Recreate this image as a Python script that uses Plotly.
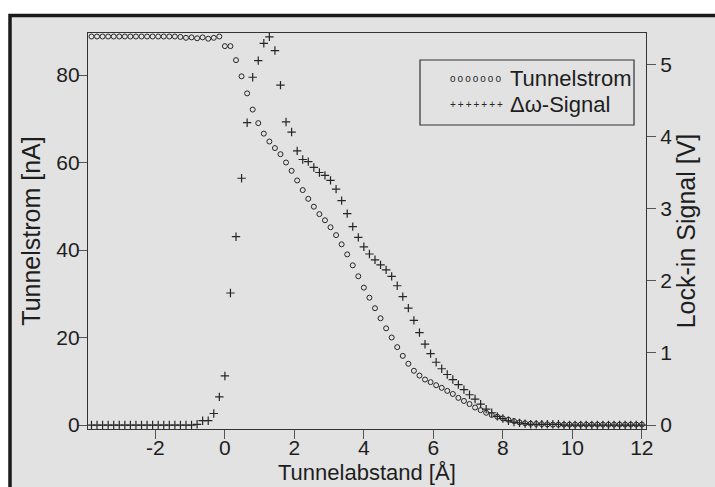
import plotly.graph_objects as go

# Tip–sample distance in Ångström (sampling positions of the sweep)
distance = [
    -3.84, -3.68, -3.52, -3.36, -3.20, -3.04, -2.88, -2.72, -2.56, -2.40,
    -2.24, -2.08, -1.92, -1.76, -1.60, -1.44, -1.28, -1.12, -0.96, -0.80,
    -0.64, -0.48, -0.32, -0.16,
    0.00, 0.16, 0.32, 0.48, 0.64, 0.80, 0.96, 1.12, 1.28, 1.44,
    1.60, 1.76, 1.92, 2.08, 2.24, 2.40, 2.56, 2.72, 2.88, 3.04,
    3.20, 3.36, 3.52, 3.68, 3.84, 4.00, 4.16, 4.32, 4.48, 4.64,
    4.80, 4.96, 5.12, 5.28, 5.44, 5.60, 5.76, 5.92, 6.08, 6.24,
    6.40, 6.56, 6.72, 6.88, 7.04, 7.20, 7.36, 7.52, 7.68, 7.84,
    8.00, 8.16, 8.32, 8.48, 8.64, 8.80, 8.96, 9.12, 9.28, 9.44,
    9.60, 9.76, 9.92, 10.08, 10.24, 10.40, 10.56, 10.72, 10.88, 11.04,
    11.20, 11.36, 11.52, 11.68, 11.84, 12.00,
]

# Tunnel current in nA (left axis)
tunnel_current = [
    88.8, 88.8, 88.8, 88.8, 88.8, 88.8, 88.8, 88.8, 88.8, 88.8,
    88.8, 88.8, 88.8, 88.8, 88.8, 88.8, 88.7, 88.5, 88.6, 88.4,
    88.6, 88.3, 88.5, 88.8,
    86.6, 86.6, 83.4, 79.7, 75.8, 72.1, 69.0, 66.6, 64.8, 63.3,
    61.9, 60.0, 58.1, 55.9, 53.7, 51.7, 49.9, 48.2, 46.8, 45.2,
    43.4, 41.3, 39.0, 36.5, 34.0, 31.4, 29.1, 26.7, 24.4, 22.1,
    20.0, 17.8, 15.8, 14.0, 12.4, 11.3, 10.4, 9.8, 9.1, 8.5,
    7.8, 7.1, 6.2, 5.5, 4.8, 4.0, 3.4, 2.8, 2.3, 1.9,
    1.5, 1.2, 0.9, 0.6, 0.4, 0.3, 0.25, 0.2, 0.15, 0.1,
    0.1, 0.1, 0.1, 0.1, 0.1, 0.1, 0.1, 0.1, 0.1, 0.1,
    0.1, 0.1, 0.1, 0.1, 0.1, 0.1,
]

# Lock-in (Δω) signal in V (right axis)
lockin_signal = [
    0.0, 0.0, 0.0, 0.0, 0.0, 0.0, 0.0, 0.0, 0.0, 0.0,
    0.0, 0.0, 0.0, 0.0, 0.0, 0.0, 0.0, 0.0, 0.0, 0.01,
    0.06, 0.06, 0.16, 0.39,
    0.68, 1.83, 2.61, 3.42, 4.19, 4.82, 5.05, 5.29, 5.38, 5.19,
    4.71, 4.20, 4.06, 3.80, 3.68, 3.65, 3.57, 3.50, 3.46, 3.39,
    3.27, 3.11, 2.93, 2.75, 2.60, 2.47, 2.37, 2.29, 2.22, 2.15,
    2.06, 1.93, 1.78, 1.62, 1.45, 1.28, 1.12, 0.99, 0.87, 0.78,
    0.70, 0.63, 0.56, 0.49, 0.42, 0.36, 0.29, 0.22, 0.17, 0.12,
    0.09, 0.06, 0.04, 0.03, 0.02, 0.01, 0.01, 0.01, 0.01, 0.01,
    0.01, 0.0, 0.0, 0.0, 0.0, 0.0, 0.0, 0.0, 0.0, 0.0,
    0.0, 0.0, 0.0, 0.0, 0.0, 0.0,
]

x_ticks = [-2, 0, 2, 4, 6, 8, 10, 12]
x_tick_text = ["-2", "0", "2", "4", "6", "8", "10", "12"]
current_ticks = [0, 20, 40, 60, 80]
signal_ticks = [0, 1, 2, 3, 4, 5]

FONT = "Liberation Sans, Arial, sans-serif"
INK = "#262626"
TEXT = "#1e1e1e"
BG = "#e2e2e2"

# Plot-area geometry in pixels, used to place paper-referenced decorations
L, R, T, B = 88, 646, 33, 429


def px_x(p):
    return (p - L) / (R - L)


def px_y(p):
    return (B - p) / (B - T)


fig = go.Figure()

fig.add_trace(go.Scatter(
    x=distance, y=tunnel_current, mode="markers", name="Tunnelstrom",
    marker=dict(symbol="circle-open", size=5, color=INK, line=dict(width=1, color=INK)),
    yaxis="y", showlegend=False,
))
fig.add_trace(go.Scatter(
    x=distance, y=lockin_signal, mode="markers", name="Δω-Signal",
    marker=dict(symbol="cross-thin-open", size=6, color=INK, line=dict(width=1.2, color=INK)),
    yaxis="y2", showlegend=False,
))

axis_common = dict(
    showgrid=False, zeroline=False, showline=True, linecolor="#333333", linewidth=1.2,
    ticks="outside", ticklen=9, tickwidth=1.2, tickcolor="#555555", automargin=False,
    tickfont=dict(family=FONT, size=21, color=TEXT),
)

fig.update_layout(
    width=715, height=487,
    margin=dict(l=L, r=715 - R, t=T, b=487 - B),
    paper_bgcolor="white", plot_bgcolor="rgba(0,0,0,0)",
    font=dict(family=FONT, color=TEXT),
    xaxis=dict(
        range=[-3.94, 12.12], tickvals=x_ticks, ticktext=x_tick_text, mirror=True,
        ticklabelstandoff=-9,
        **axis_common,
    ),
    yaxis=dict(
        range=[-0.91, 89.6], tickvals=current_ticks, ticklabelstandoff=-6,
        title=dict(text="Tunnelstrom [nA]", font=dict(family=FONT, size=25), standoff=8),
        **axis_common,
    ),
    yaxis2=dict(
        range=[-0.055, 5.433], tickvals=signal_ticks, overlaying="y", side="right",
        title=dict(text="Lock-in Signal [V]", font=dict(family=FONT, size=25), standoff=6),
        **axis_common,
    ),
)

# x-axis title, set just below the tick labels
fig.add_annotation(
    xref="paper", yref="paper", x=0.5, y=px_y(486),
    text="Tunnelabstand [Å]", showarrow=False, xanchor="center", yanchor="bottom",
    font=dict(family=FONT, size=22, color=TEXT), borderpad=0,
)

# Light gray panel with a dark frame along its top and left edges
fig.add_shape(
    type="rect", xref="paper", yref="paper",
    x0=px_x(10), y0=px_y(15.5), x1=2.0, y1=-1.0,
    line=dict(color="#1a1a1a", width=3.5), fillcolor=BG, layer="below",
)

# Legend box with repeated-symbol samples
fig.add_shape(
    type="rect", xref="paper", yref="paper",
    x0=px_x(420), x1=px_x(634), y0=px_y(125), y1=px_y(60),
    line=dict(color="#333333", width=1.2), fillcolor=BG, layer="above",
)
thin = "\u2009"
legend_rows = [
    (thin.join("o" * 7), "Tunnelstrom", 78),
    (thin.join("+" * 7), "Δω-Signal", 104),
]
for sample, label, ypix in legend_rows:
    fig.add_annotation(
        xref="paper", yref="paper", x=px_x(448), y=px_y(ypix),
        text=sample, showarrow=False, xanchor="left", yanchor="middle",
        font=dict(family=FONT, size=10, color=INK),
    )
    fig.add_annotation(
        xref="paper", yref="paper", x=px_x(508), y=px_y(ypix),
        text=label, showarrow=False, xanchor="left", yanchor="middle",
        font=dict(family=FONT, size=22, color=TEXT),
    )

fig.write_html("out.html")
